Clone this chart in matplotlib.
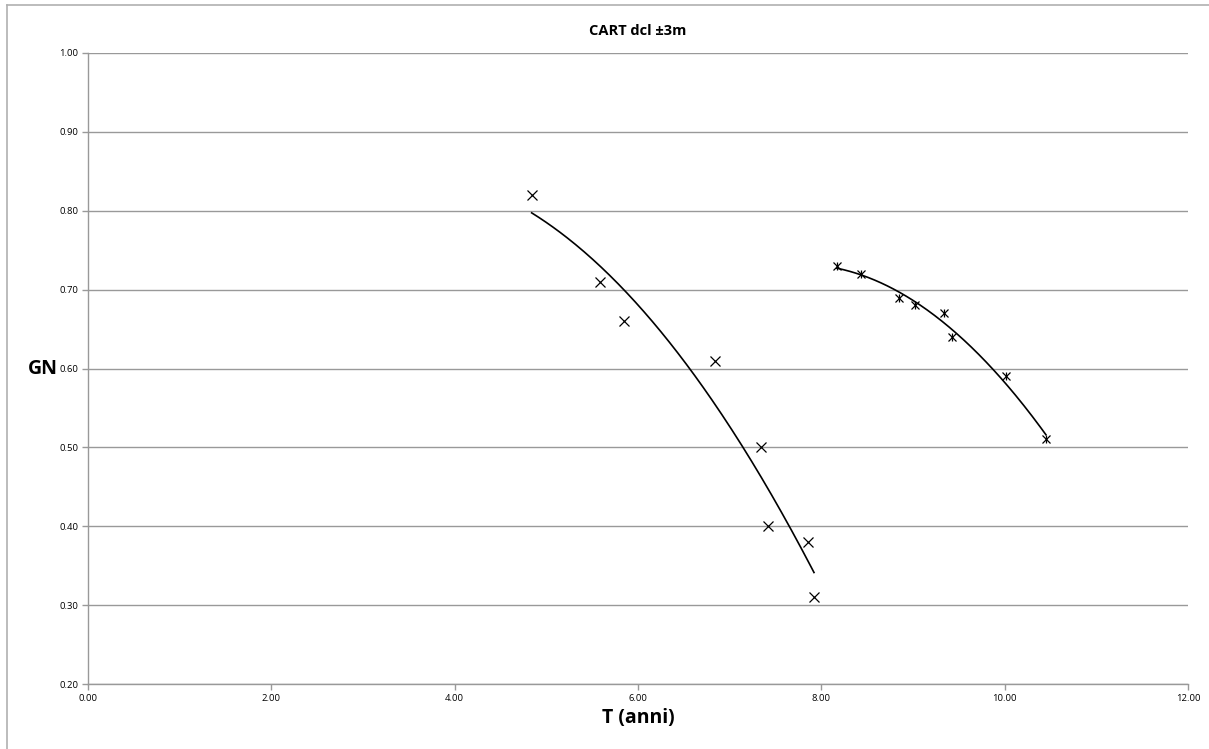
import numpy as np
import matplotlib
matplotlib.use("Agg")
import matplotlib.pyplot as plt
from matplotlib.lines import Line2D

# Data
t1 = [4.84, 5.58, 5.85, 6.84, 7.34, 7.42, 7.85, 7.92]
gn1 = [0.82, 0.71, 0.66, 0.61, 0.50, 0.40, 0.38, 0.31]
t2 = [8.17, 8.43, 8.85, 9.02, 9.34, 9.43, 10.02, 10.45]
gn2 = [0.73, 0.72, 0.69, 0.68, 0.67, 0.64, 0.59, 0.51]
xticks = [0, 2, 4, 6, 8, 10, 12]
yticks = [0.2, 0.3, 0.4, 0.5, 0.6, 0.7, 0.8, 0.9, 1.0]

plt.rcParams['font.family'] = ['Open Sans', 'DejaVu Sans']

fig = plt.figure(figsize=(12.09, 7.49), dpi=100)
ax = fig.add_axes([88/1209, 1-684/749, (1188-88)/1209, (684-53)/749])

grid_c = '#999999'
for y in yticks:
    ax.axhline(y, color=grid_c, lw=1.0, zorder=0)

ax.plot(t1, gn1, linestyle='none', marker='x', ms=6.5, mew=0.9, color='black', zorder=3)
ax.plot(t2, gn2, linestyle='none', marker='x', ms=6, mew=0.9, color='black', zorder=3)
ax.plot(t2, gn2, linestyle='none', marker='|', ms=6, mew=0.9, color='black', zorder=3)

# Polynomial (order 2) trendlines
for tx, gy in ((t1, gn1), (t2, gn2)):
    c = np.polyfit(tx, gy, 2)
    xs = np.linspace(min(tx), max(tx), 200)
    ax.plot(xs, np.polyval(c, xs), color='black', lw=1.2, zorder=2)

ax.set_xlim(0, 12)
ax.set_ylim(0.2, 1.0)
ax.set_xticks(xticks)
ax.set_yticks(yticks)
ax.set_xticklabels([f"{v:.2f}" for v in xticks], fontsize=6.8)
ax.set_yticklabels([f"{v:.2f}" for v in yticks], fontsize=6.8)
ax.tick_params(axis='both', direction='out', length=4, color=grid_c, width=1, pad=3)
for s in ('top', 'right'):
    ax.spines[s].set_visible(False)
for s in ('left', 'bottom'):
    ax.spines[s].set_color(grid_c)
    ax.spines[s].set_linewidth(1.0)

ax.set_title('CART dcl ±3m', fontsize=10.5, fontweight='bold', pad=13)
ax.set_xlabel('T (anni)', fontsize=14, fontweight='bold', labelpad=4)
ax.set_ylabel('GN', fontsize=14, fontweight='bold', rotation=0, labelpad=12, va='center')

# chart border (top and left visible)
fig.add_artist(Line2D([7/1209, 7/1209], [0, 1-5/749], transform=fig.transFigure, color='#b0b0b0', lw=1.2))
fig.add_artist(Line2D([7/1209, 1], [1-5/749, 1-5/749], transform=fig.transFigure, color='#b0b0b0', lw=1.2))

fig.savefig('out.png', dpi=100)
